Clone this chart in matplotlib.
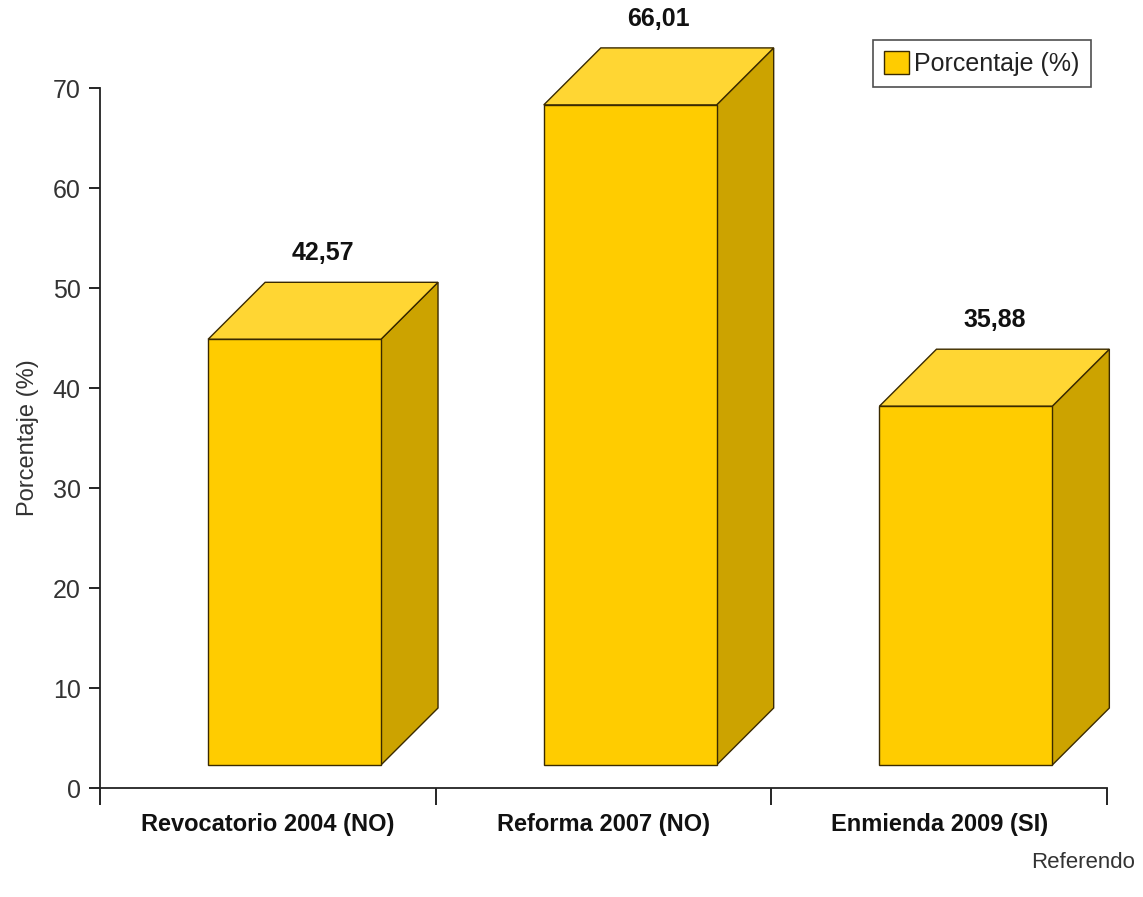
import matplotlib
matplotlib.use('Agg')
import matplotlib.pyplot as plt
from matplotlib.patches import Polygon, Rectangle, Patch

# Data
categories = ['Revocatorio 2004 (NO)', 'Reforma 2007 (NO)', 'Enmienda 2009 (SI)']
values = [42.57, 66.01, 35.88]
value_labels = ['42,57', '66,01', '35,88']
yticks = [0, 10, 20, 30, 40, 50, 60, 70]

# 3D look
FRONT = '#FFCC00'
TOP = '#FFD633'
SIDE = '#CCA300'
EDGE = '#3a2a00'
BASE = 2.3      # front face floats a bit above the axis
DX = 0.17       # depth, x units
DY = 5.7        # depth, y units
X_OFF = 0.322   # left edge of front face inside each slot
W = 0.515       # width of front face

plt.rcParams['font.family'] = ['Liberation Sans Narrow', 'DejaVu Sans Condensed',
                               'Liberation Sans', 'DejaVu Sans']

fig = plt.figure(figsize=(11.43, 8.97), dpi=100)
ax = fig.add_axes([100 / 1143, 109 / 897, 1007 / 1143, 700 / 897])

for i, v in enumerate(values):
    x0 = i + X_OFF
    y0 = BASE
    y1 = BASE + v
    side = Polygon([(x0 + W, y0), (x0 + W + DX, y0 + DY),
                    (x0 + W + DX, y1 + DY), (x0 + W, y1)],
                   closed=True, facecolor=SIDE, edgecolor=EDGE,
                   linewidth=1, clip_on=False, zorder=2)
    top = Polygon([(x0, y1), (x0 + W, y1), (x0 + W + DX, y1 + DY),
                   (x0 + DX, y1 + DY)],
                  closed=True, facecolor=TOP, edgecolor=EDGE,
                  linewidth=1, clip_on=False, zorder=2)
    front = Rectangle((x0, y0), W, v, facecolor=FRONT, edgecolor=EDGE,
                      linewidth=1, clip_on=False, zorder=3)
    ax.add_patch(side)
    ax.add_patch(top)
    ax.add_patch(front)
    ax.text(x0 + (W + DX) / 2, y1 + DY + 1.7, value_labels[i],
            ha='center', va='bottom', fontsize=18, fontweight='bold',
            color='#111111', clip_on=False)

ax.set_xlim(0, 3)
ax.set_ylim(0, 70)
ax.set_yticks(yticks)
ax.set_yticklabels([str(t) for t in yticks], fontsize=18, color='#333333')
ax.tick_params(axis='y', direction='out', length=8, width=1.2, pad=6)

ax.set_xticks([0, 1, 2, 3])
ax.set_xticklabels([])
ax.tick_params(axis='x', which='major', direction='out', length=12, width=1.2)
ax.set_xticks([0.5, 1.5, 2.5], minor=True)
ax.set_xticklabels(categories, minor=True, fontsize=17, fontweight='bold',
                   color='#111111')
ax.tick_params(axis='x', which='minor', length=0, pad=18)

for s in ['top', 'right']:
    ax.spines[s].set_visible(False)
for s in ['left', 'bottom']:
    ax.spines[s].set_linewidth(1.3)
    ax.spines[s].set_color('#222222')

ax.set_ylabel('Porcentaje (%)', fontsize=17, color='#333333', labelpad=10)
fig.text(1135 / 1143, 1 - 862 / 897, 'Referendo', ha='right', va='center',
         fontsize=16, color='#333333')

handle = Patch(facecolor=FRONT, edgecolor=EDGE, linewidth=1)
leg = fig.legend([handle], ['Porcentaje (%)'], loc='upper left',
                 bbox_to_anchor=(873 / 1143, 1 - 40 / 897), fontsize=18,
                 frameon=True, fancybox=False, borderpad=0.45,
                 handlelength=1.0, handleheight=1.0, handletextpad=0.2,
                 borderaxespad=0)
leg.get_frame().set_edgecolor('#222222')
leg.get_frame().set_linewidth(1.2)
for t in leg.get_texts():
    t.set_color('#222222')

fig.savefig('out.png', dpi=100, facecolor='white')
